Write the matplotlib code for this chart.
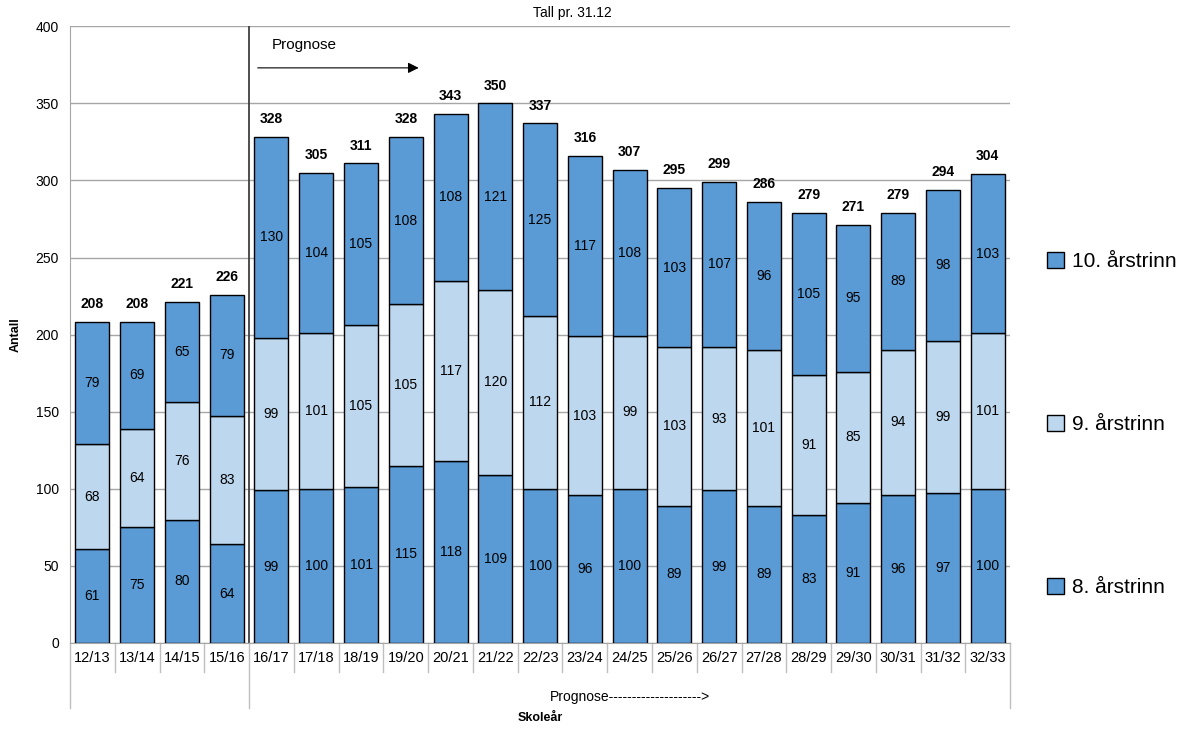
import numpy as np
import matplotlib.pyplot as plt
from matplotlib.patches import Patch
import matplotlib.transforms as mtransforms

plt.rcParams['font.family'] = ['Liberation Sans', 'DejaVu Sans']

years = ['12/13', '13/14', '14/15', '15/16', '16/17', '17/18', '18/19', '19/20',
         '20/21', '21/22', '22/23', '23/24', '24/25', '25/26', '26/27', '27/28',
         '28/29', '29/30', '30/31', '31/32', '32/33']
trinn8 = [61, 75, 80, 64, 99, 100, 101, 115, 118, 109, 100, 96, 100, 89, 99, 89, 83, 91, 96, 97, 100]
trinn9 = [68, 64, 76, 83, 99, 101, 105, 105, 117, 120, 112, 103, 99, 103, 93, 101, 91, 85, 94, 99, 101]
trinn10 = [79, 69, 65, 79, 130, 104, 105, 108, 108, 121, 125, 117, 108, 103, 107, 96, 105, 95, 89, 98, 103]

dark = '#5B9BD5'
light = '#BDD7EE'

fig = plt.figure(figsize=(11.93, 7.29), dpi=100)
ax = fig.add_axes([0.0587, 0.118, 0.788, 0.846])

x = np.arange(len(years))
b8 = np.array(trinn8)
b9 = np.array(trinn9)
b10 = np.array(trinn10)
w = 0.76
ax.bar(x, b8, w, color=dark, edgecolor='black', linewidth=1, zorder=3)
ax.bar(x, b9, w, bottom=b8, color=light, edgecolor='black', linewidth=1, zorder=3)
ax.bar(x, b10, w, bottom=b8 + b9, color=dark, edgecolor='black', linewidth=1, zorder=3)

total = b8 + b9 + b10
for i in range(len(x)):
    ax.text(x[i], b8[i] / 2, str(b8[i]), ha='center', va='center', fontsize=10, zorder=4)
    ax.text(x[i], b8[i] + b9[i] / 2, str(b9[i]), ha='center', va='center', fontsize=10, zorder=4)
    ax.text(x[i], b8[i] + b9[i] + b10[i] / 2, str(b10[i]), ha='center', va='center', fontsize=10, zorder=4)
    ax.text(x[i], total[i] + 7, str(total[i]), ha='center', va='bottom', fontsize=10,
            fontweight='bold', zorder=4)

ax.set_xlim(-0.5, len(years) - 0.5)
ax.set_ylim(0, 400)
ax.set_yticks(range(0, 401, 50))
ax.yaxis.grid(True, color='#A6A6A6', linewidth=1, zorder=0)
ax.tick_params(axis='y', length=0, labelsize=10, pad=8)
ax.set_xticks(x)
ax.set_xticklabels(years, fontsize=10.5)
ax.tick_params(axis='x', length=0, pad=6)
for s in ['top', 'right']:
    ax.spines[s].set_visible(False)
ax.spines['left'].set_color('#A6A6A6')
ax.spines['bottom'].set_color('#A6A6A6')

# prognosis divider
ax.axvline(3.5, color='#404040', linewidth=1.3, zorder=2)
ax.text(4.0, 388, 'Prognose', fontsize=11, va='center')
ax.annotate('', xy=(7.35, 373), xytext=(3.63, 373),
            arrowprops=dict(arrowstyle='-|>', color='black', lw=0.8, mutation_scale=16))

# two-level category axis separators
tr = mtransforms.blended_transform_factory(ax.transData, ax.transAxes)
for k in range(len(years) + 1):
    pos = k - 0.5
    low = -0.047
    if k in (0, 4, len(years)):
        low = -0.105
    ax.plot([pos, pos], [0, low], transform=tr, color='#BFBFBF', linewidth=1, clip_on=False)
ax.text(12.0, -0.087, 'Prognose-------------------->', transform=tr, ha='center', va='center',
        fontsize=10)
ax.text(10.0, -0.122, 'Skoleår', transform=tr, ha='center', va='center', fontsize=9,
        fontweight='bold')

ax.set_ylabel('Antall', fontsize=9, fontweight='bold', labelpad=10)
fig.text(0.48, 0.982, 'Tall pr. 31.12', ha='center', va='center', fontsize=10)

handles = [Patch(facecolor=dark, edgecolor='black', label='10. årstrinn'),
           Patch(facecolor=light, edgecolor='black', label='9. årstrinn'),
           Patch(facecolor=dark, edgecolor='black', label='8. årstrinn')]
fig.legend(handles=handles, loc='center left', bbox_to_anchor=(0.862, 0.418), frameon=False,
           fontsize=15, labelspacing=6.9, handlelength=0.8, handleheight=0.8, handletextpad=0.4)

plt.savefig('out.png', dpi=100)
